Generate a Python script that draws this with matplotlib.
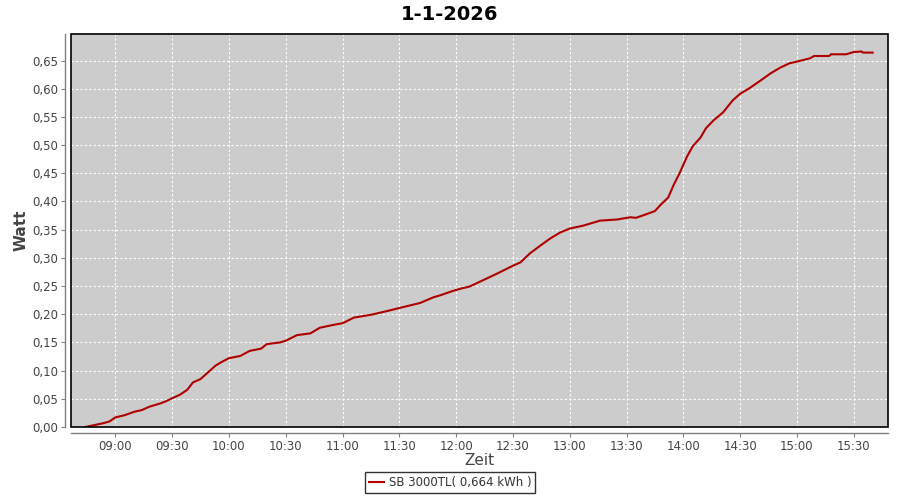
import matplotlib
matplotlib.use("Agg")
import matplotlib.pyplot as plt
import matplotlib.dates as mdates
import matplotlib.ticker as mtick
from matplotlib.patches import Rectangle
import pandas as pd

day = "2026-01-01 "
times = ["08:44", "08:47", "08:54", "08:57", "09:00", "09:05", "09:10", "09:14", "09:18", "09:24",
         "09:27", "09:30", "09:34", "09:38", "09:41", "09:45", "09:50", "09:53", "09:56", "10:00",
         "10:06", "10:11", "10:17", "10:20", "10:27", "10:30", "10:36", "10:43", "10:48", "10:55",
         "11:00", "11:06", "11:15", "11:24", "11:30", "11:41", "11:48", "11:52", "11:58", "12:02",
         "12:07", "12:14", "12:21", "12:30", "12:34", "12:39", "12:45", "12:50", "12:55", "13:00",
         "13:07", "13:16", "13:25", "13:32", "13:35", "13:41", "13:45", "13:48", "13:52", "13:55",
         "13:58", "14:00", "14:02", "14:05", "14:09", "14:12", "14:16", "14:21", "14:26", "14:30",
         "14:35", "14:41", "14:46", "14:51", "14:56", "15:00", "15:07", "15:09", "15:17", "15:18",
         "15:26", "15:30", "15:34", "15:35", "15:40"]
watt = [0.000, 0.002, 0.007, 0.010, 0.017, 0.021, 0.027, 0.030, 0.036, 0.042,
        0.046, 0.051, 0.057, 0.066, 0.079, 0.085, 0.100, 0.109, 0.115, 0.122,
        0.126, 0.135, 0.139, 0.147, 0.150, 0.153, 0.163, 0.166, 0.176, 0.181,
        0.184, 0.194, 0.199, 0.206, 0.211, 0.220, 0.230, 0.234, 0.241, 0.245,
        0.249, 0.260, 0.271, 0.286, 0.292, 0.308, 0.323, 0.335, 0.345, 0.352,
        0.357, 0.366, 0.368, 0.372, 0.371, 0.378, 0.383, 0.394, 0.407, 0.430,
        0.450, 0.465, 0.480, 0.498, 0.513, 0.530, 0.544, 0.558, 0.579, 0.591,
        0.601, 0.615, 0.627, 0.637, 0.645, 0.648, 0.654, 0.658, 0.658, 0.661,
        0.661, 0.665, 0.666, 0.664, 0.664]
series_name = "SB 3000TL( 0,664 kWh )"
title = "1-1-2026"

x = pd.to_datetime([day + t for t in times])
grey = "#808080"
text_col = "#444444"

fig = plt.figure(figsize=(9, 5), dpi=100)
ax = fig.add_axes([71 / 900, 1 - 427 / 500, 817 / 900, 393 / 500])
ax.set_facecolor("#cccccc")

ax.plot(x, watt, color="#b00000", lw=1.5, label=series_name, zorder=3)

ax.set_xlim(pd.Timestamp(day + "08:36:36"), pd.Timestamp(day + "15:48:06"))
ax.set_ylim(0, 0.697)
ax.xaxis.set_major_locator(mdates.MinuteLocator(byminute=[0, 30]))
ax.xaxis.set_major_formatter(mdates.DateFormatter("%H:%M"))
ax.yaxis.set_major_locator(mtick.MultipleLocator(0.05))
ax.yaxis.set_major_formatter(mtick.FuncFormatter(lambda v, p: f"{v:.2f}".replace(".", ",")))

ax.grid(True, color="white", lw=0.8, ls=(0, (2, 2)))

# axis lines drawn a few pixels away from the plot, like jfreechart
for side in ["top", "right"]:
    ax.spines[side].set_visible(False)
for side in ["left", "bottom"]:
    ax.spines[side].set_position(("outward", 4))
    ax.spines[side].set_color(grey)
    ax.spines[side].set_linewidth(1)
ax.add_patch(Rectangle((0, 0), 1, 1, transform=ax.transAxes, fill=False,
                       ec="black", lw=1.2, zorder=4, clip_on=False))

ax.tick_params(axis="both", colors=grey, labelcolor=text_col, labelsize=8.5,
               length=3, width=0.8, direction="out", pad=2)

ax.set_xlabel("Zeit", fontsize=11, color=text_col)
ax.xaxis.set_label_coords(0.5, -0.067)
ax.set_ylabel("Watt", fontsize=11, color=text_col, fontweight="bold")
ax.yaxis.set_label_coords(-0.052, 0.5)

fig.text(0.5, 1 - 14 / 500, title, ha="center", va="center",
         fontsize=14, fontweight="bold", color="black")

leg = fig.legend(loc="lower center", bbox_to_anchor=(0.5, 0.002), fontsize=8.5,
                 frameon=True, fancybox=False, edgecolor="black",
                 handlelength=1.3, handletextpad=0.4, borderpad=0.35)
leg.get_frame().set_linewidth(1)
for t in leg.get_texts():
    t.set_color("#333333")

fig.savefig("out.png", dpi=100, facecolor="white")
